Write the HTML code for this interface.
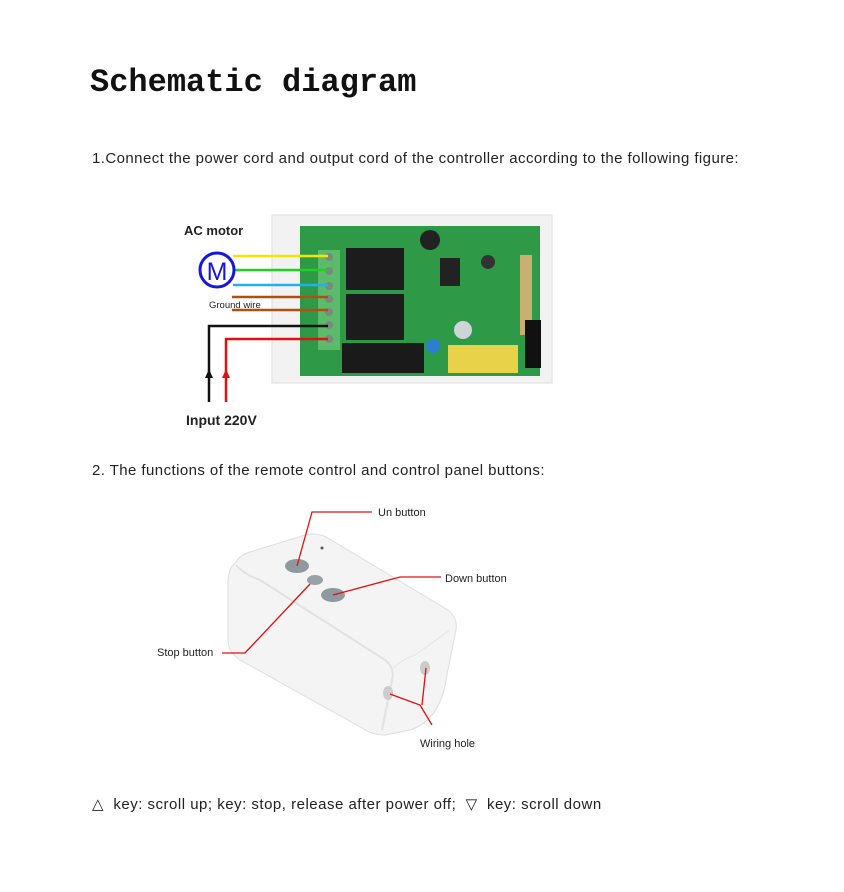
<!DOCTYPE html>
<html><head><meta charset="utf-8"><style>
html,body{margin:0;padding:0;background:#fff;}
body{width:844px;height:892px;position:relative;overflow:hidden;}
.t{position:absolute;font-family:"Liberation Sans",sans-serif;color:#222;white-space:nowrap;}
</style></head><body>
<div class="t" style="left:90px;top:64px;font-family:'Liberation Mono',monospace;font-weight:bold;font-size:32px;color:#111;">Schematic diagram</div>
<div class="t" style="left:92px;top:150px;font-size:15px;letter-spacing:0.43px;">1.Connect the power cord and output cord of the controller according to the following figure:</div>
<div class="t" style="left:92px;top:462px;font-size:15px;letter-spacing:0.43px;">2. The functions of the remote control and control panel buttons:</div>
<div class="t" style="left:92px;top:795px;font-size:15px;letter-spacing:0.5px;">△&nbsp; key: scroll up; key: stop, release after power off; &nbsp;▽&nbsp; key: scroll down</div>

<svg width="844" height="892" style="position:absolute;left:0;top:0" font-family="Liberation Sans, sans-serif">
<rect x="272" y="215" width="280" height="168" fill="#f2f2f2" stroke="#ddd"/>
<rect x="300" y="226" width="240" height="150" fill="#2e9a48"/>
<rect x="318" y="250" width="22" height="100" fill="#5cbb6a"/>
<rect x="346" y="248" width="58" height="42" fill="#1c1c1c"/>
<rect x="346" y="294" width="58" height="46" fill="#1c1c1c"/>
<rect x="342" y="343" width="82" height="30" fill="#1a1a1a"/>
<rect x="448" y="345" width="70" height="28" fill="#e8d24a"/>
<rect x="520" y="255" width="12" height="80" fill="#c8b070"/>
<rect x="525" y="320" width="16" height="48" fill="#111"/>
<circle cx="430" cy="240" r="10" fill="#222"/>
<circle cx="488" cy="262" r="7" fill="#333"/>
<circle cx="463" cy="330" r="9" fill="#cfd4d8"/>
<circle cx="433" cy="346" r="7" fill="#2a7fd0"/>
<rect x="440" y="258" width="20" height="28" fill="#222"/>
<g fill="#7a8a7a"><circle cx="329" cy="257" r="4"/><circle cx="329" cy="271" r="4"/><circle cx="329" cy="286" r="4"/><circle cx="329" cy="299" r="4"/><circle cx="329" cy="312" r="4"/><circle cx="329" cy="325" r="4"/><circle cx="329" cy="339" r="4"/></g>
<g stroke-width="2.5" fill="none">
<line x1="233" y1="256" x2="328" y2="256" stroke="#f2e600"/>
<line x1="233" y1="270" x2="328" y2="270" stroke="#20d020"/>
<line x1="233" y1="285" x2="328" y2="285" stroke="#20b0f0"/>
<line x1="232" y1="297" x2="328" y2="297" stroke="#b05010"/>
<line x1="232" y1="310" x2="328" y2="310" stroke="#b05010"/>
<polyline points="209,402 209,326 328,326" stroke="#111"/>
<polyline points="226,402 226,339 328,339" stroke="#e01010"/>
</g>
<polygon points="205,378 209,369 213,378" fill="#111"/>
<polygon points="222,378 226,369 230,378" fill="#e01010"/>
<circle cx="217" cy="270" r="17" fill="#fff" stroke="#1515e0" stroke-width="3"/>
<text x="217" y="280" font-size="25" fill="#1515e0" text-anchor="middle">M</text>
<text x="184" y="235" font-size="13" font-weight="bold" fill="#222">AC motor</text>
<text x="209" y="308" font-size="9.5" fill="#222">Ground wire</text>
<text x="186" y="425" font-size="14" font-weight="bold" fill="#222">Input 220V</text>

<!-- remote -->
<path d="M236,562 Q240,555 250,552 L305,535 Q318,532 328,538 L448,610 Q458,618 456,630 L446,680 Q440,720 410,730 L385,735 Q372,735 362,728 L240,660 Q228,652 228,640 L228,580 Q229,568 236,562 Z" fill="#f4f4f4" stroke="#dedede"/>
<path d="M236,565 Q245,575 260,580 L385,660 Q395,668 392,680 L382,730" fill="none" stroke="#e2e2e2" stroke-width="2"/>
<path d="M392,670 Q400,660 415,655 L450,630" fill="none" stroke="#e6e6e6"/>
<ellipse cx="297" cy="566" rx="12" ry="7" fill="#8f9aa0"/>
<ellipse cx="315" cy="580" rx="8" ry="5" fill="#98a3a8"/>
<ellipse cx="333" cy="595" rx="12" ry="7" fill="#8f9aa0"/>
<ellipse cx="388" cy="693" rx="5" ry="7" fill="#ccc"/>
<ellipse cx="425" cy="668" rx="5" ry="7" fill="#ccc"/>
<circle cx="322" cy="548" r="1.5" fill="#555"/>
<g stroke="#e01010" stroke-width="1.3" fill="none">
<polyline points="297,566 312,512 372,512"/>
<polyline points="333,595 400,577 441,577"/>
<polyline points="310,584 245,653 222,653"/>
<polyline points="390,694 420,705 432,725"/>
<polyline points="426,668 422,705"/>
</g>
<text x="378" y="516" font-size="11" fill="#222">Un button</text>
<text x="445" y="582" font-size="11" fill="#222">Down button</text>
<text x="157" y="656" font-size="11" fill="#222">Stop button</text>
<text x="420" y="747" font-size="11" fill="#222">Wiring hole</text>
</svg>
</body></html>
